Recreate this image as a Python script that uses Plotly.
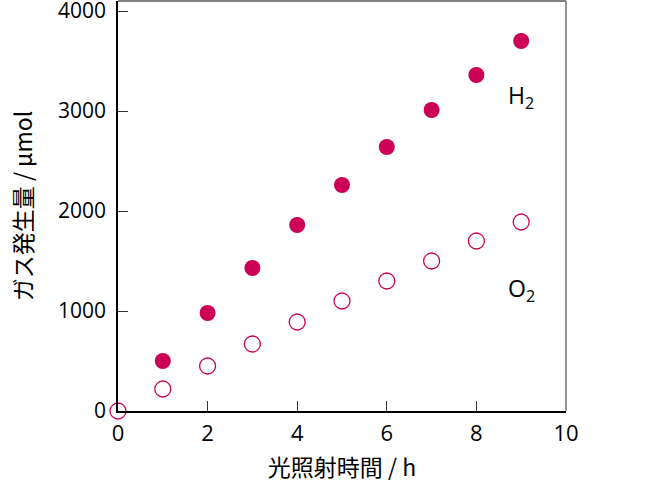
import plotly.graph_objects as go

hours_h2 = [1, 2, 3, 4, 5, 6, 7, 8, 9]
h2_umol = [500, 980, 1430, 1860, 2260, 2640, 3010, 3360, 3700]
hours_o2 = [0, 1, 2, 3, 4, 5, 6, 7, 8, 9]
o2_umol = [0, 220, 450, 670, 890, 1100, 1300, 1500, 1700, 1890]
x_ticks = [0, 2, 4, 6, 8, 10]
y_ticks = [0, 1000, 2000, 3000, 4000]

color = "#CC0055"
font_tick = "'Open Sans', sans-serif"
font_cjk = "'Noto Sans CJK JP', sans-serif"

fig = go.Figure()
fig.add_trace(go.Scatter(x=hours_o2, y=o2_umol, mode="markers", cliponaxis=False,
                         marker=dict(size=16, color="white", line=dict(color=color, width=1.3)),
                         showlegend=False))
fig.add_trace(go.Scatter(x=hours_h2, y=h2_umol, mode="markers", cliponaxis=False,
                         marker=dict(size=16, color=color, line=dict(width=0)),
                         showlegend=False))

fig.add_annotation(x=9, y=3150, text="H<sub>2</sub>", showarrow=False,
                   font=dict(size=23, family=font_tick, color="black"))
fig.add_annotation(x=9, y=1220, text="O<sub>2</sub>", showarrow=False,
                   font=dict(size=23, family=font_tick, color="black"))

# top and right frame lines (gray)
fig.add_shape(type="line", xref="paper", yref="paper", x0=0, x1=1, y0=1, y1=1,
              line=dict(color="#808080", width=2))
fig.add_shape(type="line", xref="paper", yref="paper", x0=1, x1=1, y0=0, y1=1,
              line=dict(color="#707070", width=1.5))

fig.update_layout(
    width=670, height=483,
    margin=dict(l=118, r=104, t=1, b=72),
    plot_bgcolor="white", paper_bgcolor="white",
    xaxis=dict(range=[0, 10], tickvals=x_ticks, ticks="inside", ticklen=10,
               tickcolor="#333", showline=True, linecolor="black", linewidth=1.5,
               showgrid=False, zeroline=False, automargin=False,
               ticklabeloverflow="allow", ticklabelstandoff=2,
               tickfont=dict(size=22, family=font_tick, color="black"),
               title=dict(text="光照射時間 / h", font=dict(size=23, family=font_cjk, color="black"),
                          standoff=15)),
    yaxis=dict(range=[0, 4100], tickvals=y_ticks, ticks="inside", ticklen=10,
               tickcolor="#333", showline=True, linecolor="black", linewidth=1.5,
               showgrid=False, zeroline=False, automargin=False,
               ticklabeloverflow="allow", ticklabelstandoff=6,
               tickfont=dict(size=21, family=font_tick, color="black"),
               title=dict(text="ガス発生量 / µmol", font=dict(size=23, family=font_cjk, color="black"),
                          standoff=19)),
)

fig.write_html("out.html", config={"displayModeBar": False},
               post_script="document.body.style.margin='0';")
